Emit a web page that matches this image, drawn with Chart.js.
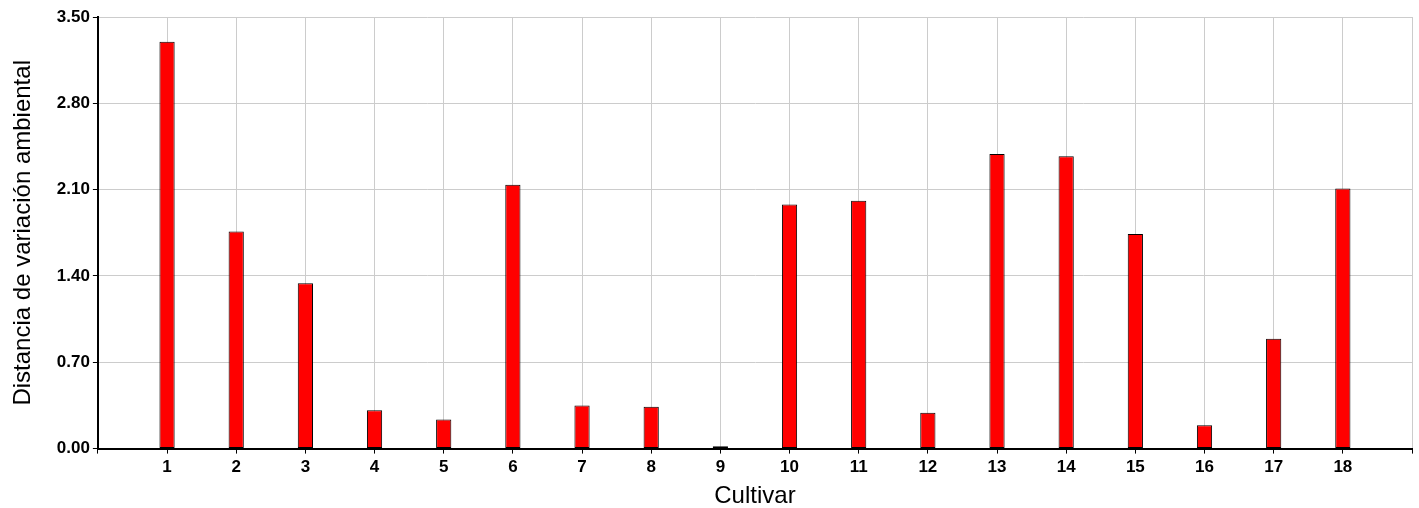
<!DOCTYPE html>
<html>
<head>
<meta charset="utf-8">
<script src="https://cdn.jsdelivr.net/npm/chart.js@4"></script>
<style>
  html, body { margin: 0; padding: 0; background: #fff; }
  #wrap { width: 1419px; height: 508px; }
</style>
</head>
<body>
<div id="wrap"><canvas id="myChart"></canvas></div>
<script>
const cultivars = ['1','2','3','4','5','6','7','8','9','10','11','12','13','14','15','16','17','18'];
const distancia = [3.30, 1.76, 1.34, 0.31, 0.235, 2.14, 0.35, 0.34, 0.02, 1.98, 2.01, 0.29, 2.39, 2.37, 1.74, 0.19, 0.89, 2.11];
const yTicks = [0, 0.70, 1.40, 2.10, 2.80, 3.50];

// blank slots at both ends so the axis runs one step past the first and last bar
const labels = [''].concat(cultivars, ['']);
const values = [null].concat(distancia, [null]);

const ctx = document.getElementById('myChart');

const myChart = new Chart(ctx, {
    type: 'bar',
    data: {
        labels: labels,
        datasets: [{
            label: 'Distancia',
            data: values,
            backgroundColor: '#ff0000',
            borderColor: '#000000',
            borderWidth: 1,
            borderSkipped: false,
            barPercentage: 0.22,
            categoryPercentage: 1
        }]
    },
    options: {
        responsive: true,
        maintainAspectRatio: false,
        animation: false,
        layout: { padding: { top: 17, right: 7, left: 1, bottom: 0 } },
        plugins: {
            legend: { display: false },
            tooltip: { enabled: false }
        },
        scales: {
            x: {
                offset: false,
                grid: {
                    offset: false,
                    color: '#cccccc',
                    tickColor: '#000000',
                    tickLength: 5
                },
                border: { color: '#000000', width: 2 },
                ticks: {
                    color: '#000000',
                    autoSkip: false,
                    maxRotation: 0,
                    padding: 4,
                    font: { family: 'Liberation Sans, Arial', size: 17, weight: 'bold' }
                },
                title: {
                    display: true,
                    text: 'Cultivar',
                    color: '#000000',
                    padding: { top: 2, bottom: 0 },
                    font: { family: 'Liberation Sans, Arial', size: 24, lineHeight: 1 }
                }
            },
            y: {
                min: 0,
                max: 3.5,
                afterBuildTicks: (axis) => {
                    axis.ticks = yTicks.map(v => ({ value: v }));
                },
                grid: {
                    color: '#cccccc',
                    tickColor: '#000000',
                    tickLength: 5
                },
                border: { color: '#000000', width: 2 },
                ticks: {
                    color: '#000000',
                    padding: 3,
                    callback: (v) => Number(v).toFixed(2),
                    font: { family: 'Liberation Sans, Arial', size: 17, weight: 'bold' }
                },
                title: {
                    display: true,
                    text: 'Distancia de variación ambiental',
                    color: '#000000',
                    padding: { top: 8, bottom: 16 },
                    font: { family: 'Liberation Sans, Arial', size: 24 }
                }
            }
        }
    }
});
</script>
</body>
</html>
